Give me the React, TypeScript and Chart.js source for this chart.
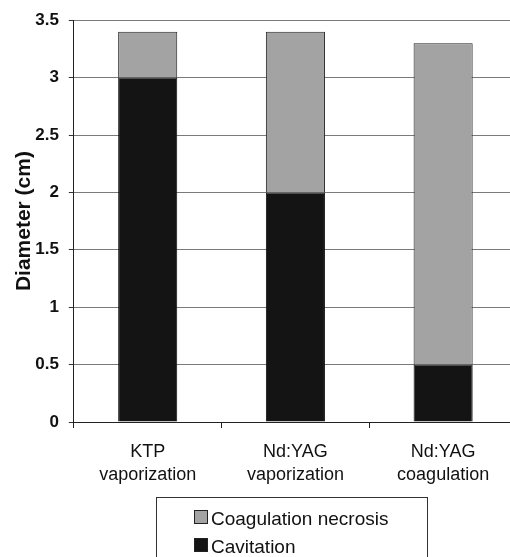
import React, { useEffect, useRef } from "react";
import { Chart, registerables } from "chart.js";

Chart.register(...registerables);

const categories: string[][] = [
  ["KTP", "vaporization"],
  ["Nd:YAG", "vaporization"],
  ["Nd:YAG", "coagulation"],
];
const cavitation: number[] = [3.0, 2.0, 0.5];
const coagulationNecrosis: number[] = [0.4, 1.4, 2.8];
const yTicks: number[] = [0, 0.5, 1, 1.5, 2, 2.5, 3, 3.5];
const seriesNames: string[] = ["Cavitation", "Coagulation necrosis"];

const FONT = "'Liberation Sans', Arial, sans-serif";

const boxLegend = {
  id: "boxLegend",
  afterDraw(chart: any) {
    const ctx = chart.ctx;
    const ds = chart.data.datasets;
    const x0 = 156;
    const y0 = 497;
    const w = 271;
    ctx.save();
    ctx.strokeStyle = "#333";
    ctx.lineWidth = 1;
    ctx.strokeRect(x0 + 0.5, y0 + 0.5, w, 80);
    ctx.font = `19px ${FONT}`;
    ctx.textBaseline = "alphabetic";
    ctx.textAlign = "left";
    const order = [1, 0];
    order.forEach((di, i) => {
      const base = 525 + i * 28;
      ctx.fillStyle = ds[di].backgroundColor;
      ctx.fillRect(194, base - 15, 14, 14);
      ctx.strokeStyle = "#222";
      ctx.strokeRect(194.5, base - 14.5, 13, 13);
      ctx.fillStyle = "#111";
      ctx.fillText(ds[di].label, 211, base);
    });
    ctx.restore();
  },
};

export default function App() {
  const ref = useRef<HTMLCanvasElement>(null);
  useEffect(() => {
    document.body.style.margin = "0";
    const chart = new Chart(ref.current!, {
      type: "bar",
      data: {
        labels: categories,
        datasets: [
          {
            label: seriesNames[0],
            data: cavitation,
            backgroundColor: "#141414",
            borderColor: "#111",
            borderWidth: 1,
            barPercentage: 0.4,
            categoryPercentage: 1,
          },
          {
            label: seriesNames[1],
            data: coagulationNecrosis,
            backgroundColor: "#a3a3a3",
            borderColor: "#222",
            borderWidth: 1,
            barPercentage: 0.4,
            categoryPercentage: 1,
          },
        ],
      },
      options: {
        animation: false,
        responsive: false,
        devicePixelRatio: 1,
        layout: { padding: { top: 16, right: 3, bottom: 58, left: 12 } },
        plugins: {
          legend: { display: false },
          tooltip: { enabled: false },
        },
        scales: {
          x: {
            stacked: true,
            grid: {
              offset: true,
              drawOnChartArea: false,
              drawTicks: true,
              tickLength: 6,
              color: "#222",
            },
            border: { color: "#222", width: 1 },
            ticks: {
              color: "#111",
              font: { family: FONT, size: 18, lineHeight: 1.25 },
              padding: 13,
              maxRotation: 0,
            },
          },
          y: {
            stacked: true,
            min: 0,
            max: 3.5,
            afterBuildTicks: (axis: any) => {
              axis.ticks = yTicks.map((v) => ({ value: v }));
            },
            grid: {
              color: "#7a7a7a",
              lineWidth: 1,
              tickLength: 5,
              tickColor: "#333",
            },
            border: { color: "#222", width: 1 },
            ticks: {
              color: "#111",
              font: { family: FONT, size: 17, weight: "bold" },
              padding: 10,
              callback: (v: any) => String(v),
            },
            title: {
              display: true,
              text: "Diameter (cm)",
              color: "#111",
              font: { family: FONT, size: 21, weight: "bold" },
              padding: { top: 0, bottom: -12 },
            },
          },
        },
      },
      plugins: [boxLegend],
    });
    return () => chart.destroy();
  }, []);
  return (
    <div style={{ width: 510, height: 557, overflow: "hidden", background: "#fff" }}>
      <canvas ref={ref} width={520} height={557} style={{ display: "block" }} />
    </div>
  );
}
